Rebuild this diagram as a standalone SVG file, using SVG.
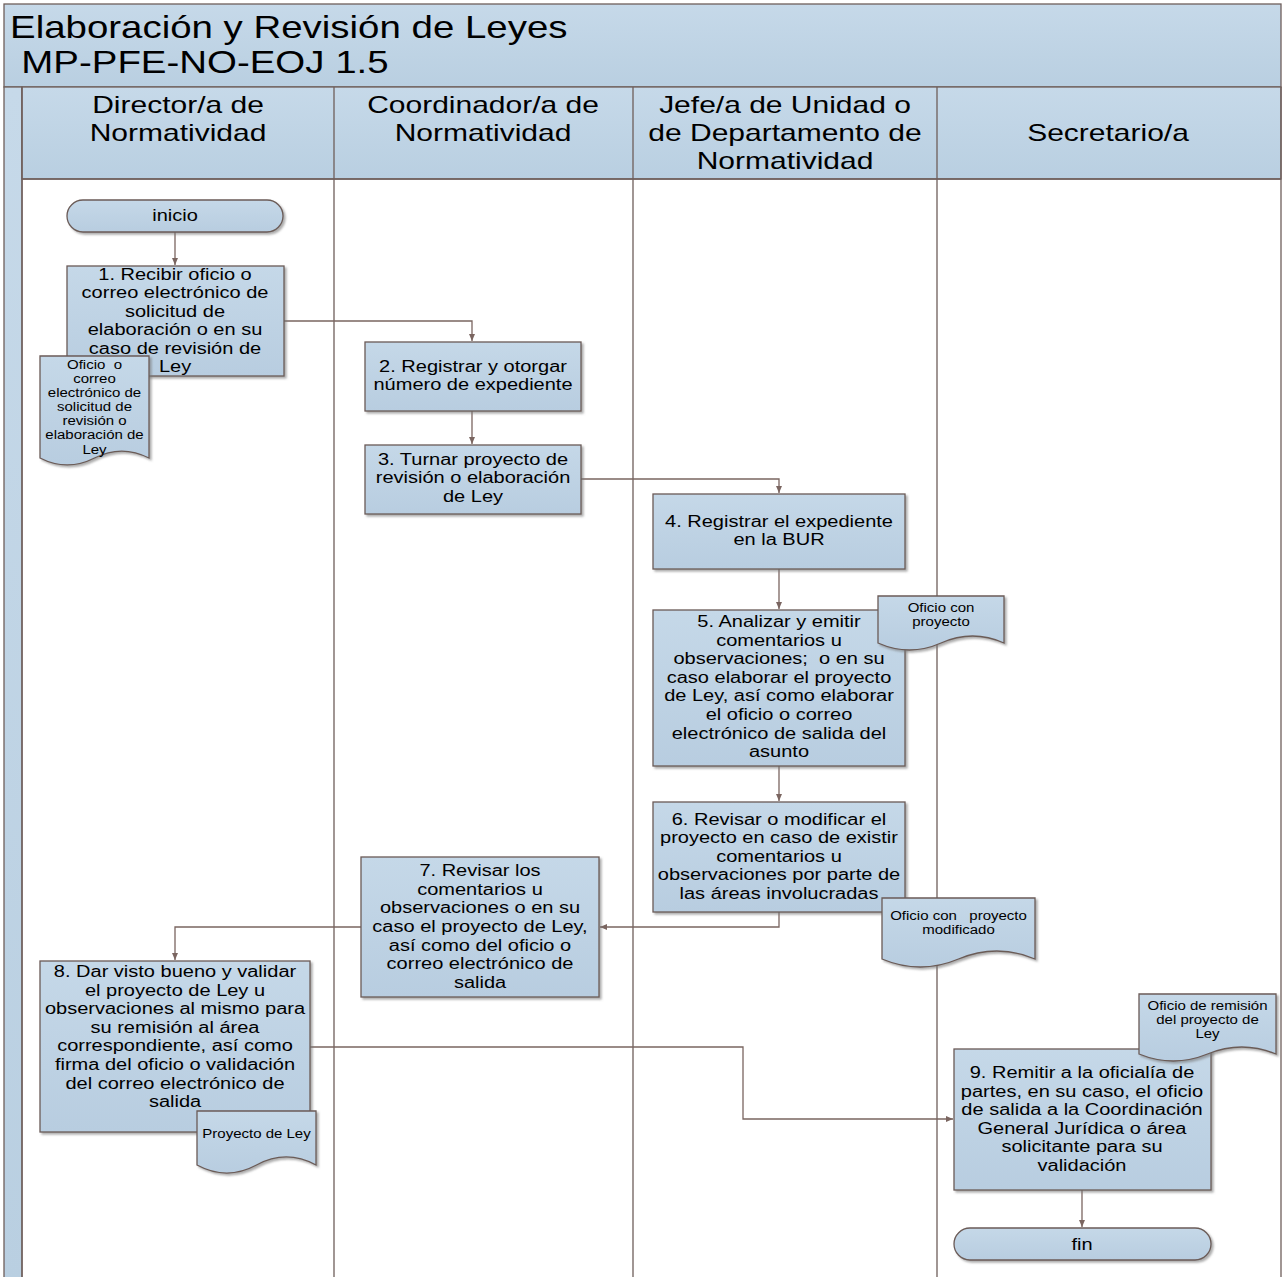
<svg xmlns="http://www.w3.org/2000/svg" width="1283" height="1277" viewBox="0 0 1283 1277">
<style>
.ln{fill:none;stroke:#6f5f5b;stroke-width:1.3}
.band{stroke:#6f5f5b;stroke-width:1.3;fill:url(#hg)}
.box{fill:url(#bg);stroke:#6b5b57;stroke-width:1.3;filter:url(#sh)}
.t{font-family:"Liberation Sans",Arial,sans-serif;font-size:16px;fill:#000;text-anchor:middle}
.d{font-size:12px}
.h{font-size:24px}
.pre{white-space:pre}
.conn{fill:none;stroke:#7a6560;stroke-width:1.3;marker-end:url(#arr)}
</style>
<defs>
<linearGradient id="hg" x1="0" y1="0" x2="0" y2="1"><stop offset="0" stop-color="#c6d9e9"/><stop offset="1" stop-color="#b9cfe1"/></linearGradient>
<linearGradient id="bg" x1="0" y1="0" x2="0" y2="1"><stop offset="0" stop-color="#c5d8e8"/><stop offset="1" stop-color="#b8cde0"/></linearGradient>
<filter id="sh" x="-10%" y="-10%" width="130%" height="130%"><feDropShadow dx="2" dy="2" stdDeviation="1" flood-color="#777" flood-opacity="0.6"/></filter>
<marker id="arr" markerUnits="userSpaceOnUse" markerWidth="7" markerHeight="6" refX="7" refY="3" orient="auto"><path d="M0,0 L7,3 L0,6 Z" fill="#7a6560"/></marker>
</defs>

<g id="pool">
<rect class="band" x="4" y="4" width="1277" height="83"/>
<rect class="band" x="4" y="87" width="18" height="1200"/>
<rect class="band" x="22" y="87" width="1259" height="92"/>
<path class="ln" d="M22,87 V1277 M334,87 V1277 M633,87 V1277 M937,87 V1277 M1281,87 V1277 M22,179 H1281"/>
<text class="t" style="text-anchor:start;font-size:30.5px" transform="translate(10 0) scale(1.26 1)"><tspan x="0" y="38">Elaboración y Revisión de Leyes</tspan><tspan x="9" y="73">MP-PFE-NO-EOJ 1.5</tspan></text>
<text class="t h" transform="translate(178 0) scale(1.25 1)"><tspan x="0" y="113">Director/a de</tspan><tspan x="0" y="141">Normatividad</tspan></text>
<text class="t h" transform="translate(483 0) scale(1.25 1)"><tspan x="0" y="113">Coordinador/a de</tspan><tspan x="0" y="141">Normatividad</tspan></text>
<text class="t h" transform="translate(785 0) scale(1.25 1)"><tspan x="0" y="113">Jefe/a de Unidad o</tspan><tspan x="0" y="141">de Departamento de</tspan><tspan x="0" y="169">Normatividad</tspan></text>
<text class="t h" transform="translate(1108 0) scale(1.25 1)"><tspan x="0" y="141">Secretario/a</tspan></text>
</g>

<g id="connectors">
<path class="conn" d="M175,232 V265"/>
<path class="conn" d="M284,321 H472 V341"/>
<path class="conn" d="M472,411 V444"/>
<path class="conn" d="M581,479 H779 V493"/>
<path class="conn" d="M779,569 V609"/>
<path class="conn" d="M779,766 V801"/>
<path class="conn" d="M779,912 V927 H600"/>
<path class="conn" d="M361,927 H175 V960"/>
<path class="conn" d="M310,1047 H743 V1119 H953"/>
<path class="conn" d="M1082,1190 V1227"/>
</g>

<g id="inicio">
<rect class="box" x="67" y="200" width="216" height="32" rx="16"/>
<text class="t" transform="translate(175 0) scale(1.25 1)"><tspan x="0" y="221">inicio</tspan></text>
</g>

<g id="n1">
<rect class="box" x="67" y="266" width="217" height="110"/>
<text class="t" transform="translate(175 0) scale(1.25 1)"><tspan x="0" y="280">1. Recibir oficio o</tspan><tspan x="0" y="298.5">correo electrónico de</tspan><tspan x="0" y="317">solicitud de</tspan><tspan x="0" y="335.5">elaboración o en su</tspan><tspan x="0" y="354">caso de revisión de</tspan><tspan x="0" y="372.5">Ley</tspan></text>
</g>

<g id="doc1">
<path class="box" d="M40,356 H149 V458 C130.8,448.7 112.7,448.7 94.5,458 C76.3,467.3 58.2,467.3 40,458 Z"/>
<text class="t d pre" transform="translate(94.5 0) scale(1.25 1)"><tspan x="0" y="369">Oficio  o</tspan><tspan x="0" y="383.1">correo</tspan><tspan x="0" y="397.2">electrónico de</tspan><tspan x="0" y="411.3">solicitud de</tspan><tspan x="0" y="425.4">revisión o</tspan><tspan x="0" y="439.5">elaboración de</tspan><tspan x="0" y="453.6">Ley</tspan></text>
</g>

<g id="n2">
<rect class="box" x="365" y="342" width="216" height="69"/>
<text class="t" transform="translate(473 0) scale(1.25 1)"><tspan x="0" y="372">2. Registrar y otorgar</tspan><tspan x="0" y="390.5">número de expediente</tspan></text>
</g>

<g id="n3">
<rect class="box" x="365" y="445" width="216" height="69"/>
<text class="t" transform="translate(473 0) scale(1.25 1)"><tspan x="0" y="465">3. Turnar proyecto de</tspan><tspan x="0" y="483.5">revisión o elaboración</tspan><tspan x="0" y="502">de Ley</tspan></text>
</g>

<g id="n4">
<rect class="box" x="653" y="494" width="252" height="75"/>
<text class="t" transform="translate(779 0) scale(1.25 1)"><tspan x="0" y="527">4. Registrar el expediente</tspan><tspan x="0" y="545.5">en la BUR</tspan></text>
</g>

<g id="n5">
<rect class="box" x="653" y="610" width="252" height="156"/>
<text class="t pre" transform="translate(779 0) scale(1.25 1)"><tspan x="0" y="627">5. Analizar y emitir</tspan><tspan x="0" y="645.6">comentarios u</tspan><tspan x="0" y="664.2">observaciones;  o en su</tspan><tspan x="0" y="682.8">caso elaborar el proyecto</tspan><tspan x="0" y="701.4">de Ley, así como elaborar</tspan><tspan x="0" y="720">el oficio o correo</tspan><tspan x="0" y="738.6">electrónico de salida del</tspan><tspan x="0" y="757.2">asunto</tspan></text>
</g>

<g id="doc5">
<path class="box" d="M878,596 H1004 V643 C983,633.7 962,633.7 941,643 C920,652.3 899,652.3 878,643 Z"/>
<text class="t d" transform="translate(941 0) scale(1.25 1)"><tspan x="0" y="612">Oficio con</tspan><tspan x="0" y="626">proyecto</tspan></text>
</g>

<g id="n6">
<rect class="box" x="653" y="802" width="252" height="110"/>
<text class="t" transform="translate(779 0) scale(1.25 1)"><tspan x="0" y="825">6. Revisar o modificar el</tspan><tspan x="0" y="843.5">proyecto en caso de existir</tspan><tspan x="0" y="862">comentarios u</tspan><tspan x="0" y="880.5">observaciones por parte de</tspan><tspan x="0" y="899">las áreas involucradas</tspan></text>
</g>

<g id="doc6">
<path class="box" d="M882,898 H1035 V959 C1009.5,948.3 984,948.3 958.5,959 C933,969.7 907.5,969.7 882,959 Z"/>
<text class="t d pre" transform="translate(958.5 0) scale(1.25 1)"><tspan x="0" y="920">Oficio con   proyecto</tspan><tspan x="0" y="934">modificado</tspan></text>
</g>

<g id="n7">
<rect class="box" x="361" y="857" width="238" height="140"/>
<text class="t" transform="translate(480 0) scale(1.25 1)"><tspan x="0" y="876">7. Revisar los</tspan><tspan x="0" y="894.7">comentarios u</tspan><tspan x="0" y="913.4">observaciones o en su</tspan><tspan x="0" y="932">caso el proyecto de Ley,</tspan><tspan x="0" y="950.7">así como del oficio o</tspan><tspan x="0" y="969.4">correo electrónico de</tspan><tspan x="0" y="988">salida</tspan></text>
</g>

<g id="n8">
<rect class="box" x="40" y="961" width="270" height="171"/>
<text class="t" transform="translate(175 0) scale(1.25 1)"><tspan x="0" y="977">8. Dar visto bueno y validar</tspan><tspan x="0" y="995.6">el proyecto de Ley u</tspan><tspan x="0" y="1014.2">observaciones al mismo para</tspan><tspan x="0" y="1032.8">su remisión al área</tspan><tspan x="0" y="1051.4">correspondiente, así como</tspan><tspan x="0" y="1070">firma del oficio o validación</tspan><tspan x="0" y="1088.6">del correo electrónico de</tspan><tspan x="0" y="1107.2">salida</tspan></text>
</g>

<g id="doc8">
<path class="box" d="M197,1111 H316 V1165 C296.2,1154.3 276.3,1154.3 256.5,1165 C236.7,1175.7 216.8,1175.7 197,1165 Z"/>
<text class="t d" transform="translate(256.5 0) scale(1.25 1)"><tspan x="0" y="1138">Proyecto de Ley</tspan></text>
</g>

<g id="n9">
<rect class="box" x="954" y="1049" width="257" height="141"/>
<text class="t" transform="translate(1082 0) scale(1.25 1)"><tspan x="0" y="1078">9. Remitir a la oficialía de</tspan><tspan x="0" y="1096.6">partes, en su caso, el oficio</tspan><tspan x="0" y="1115.2">de salida a la Coordinación</tspan><tspan x="0" y="1133.8">General Jurídica o área</tspan><tspan x="0" y="1152.4">solicitante para su</tspan><tspan x="0" y="1171">validación</tspan></text>
</g>

<g id="doc9">
<path class="box" d="M1139,994 H1276 V1054 C1253.2,1044.7 1230.3,1044.7 1207.5,1054 C1184.7,1063.3 1161.8,1063.3 1139,1054 Z"/>
<text class="t d" transform="translate(1207.5 0) scale(1.25 1)"><tspan x="0" y="1010">Oficio de remisión</tspan><tspan x="0" y="1024">del proyecto de</tspan><tspan x="0" y="1038">Ley</tspan></text>
</g>

<g id="fin">
<rect class="box" x="954" y="1228" width="257" height="32" rx="16"/>
<text class="t" transform="translate(1082 0) scale(1.25 1)"><tspan x="0" y="1250">fin</tspan></text>
</g>
</svg>
